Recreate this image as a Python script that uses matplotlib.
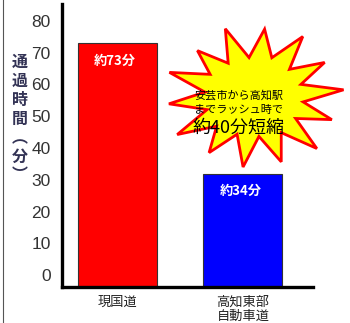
import numpy as np
import matplotlib.pyplot as plt
from matplotlib.patches import Polygon
from matplotlib.lines import Line2D

plt.rcParams['font.family'] = ['Noto Sans CJK JP', 'DejaVu Sans']

# data
roads = ['現国道', '高知東部\n自動車道']
minutes = [73, 34]
bar_labels = ['約73分', '約34分']
bar_colors = ['#ff0000', '#0000ff']
yticks = [0, 10, 20, 30, 40, 50, 60, 70, 80]

fig = plt.figure(figsize=(3.5, 3.23), dpi=100)
ax = fig.add_axes([0.177, 0.111, 0.717, 0.877])

x = np.arange(len(roads))
ax.bar(x, minutes, width=0.63, color=bar_colors, edgecolor='#333333', linewidth=0.8, zorder=2)
for xi, v, lab in zip(x, minutes, bar_labels):
    ax.text(xi - 0.02, v - 5.3, lab, ha='center', va='center', color='white',
            fontsize=9.5, fontweight='bold')

ax.set_xlim(-0.442, 1.558)
ax.set_ylim(0, 84.8)
# the original's tick labels are drawn on a slightly compressed, raised scale
ax.set_yticks(np.array(yticks) * 0.952 + 3.6)
ax.set_yticklabels([str(t) for t in yticks], family='Liberation Sans',
                   fontsize=12.5, color='#333333')
ax.set_xticks(x)
ax.set_xticklabels(roads, fontsize=9.5, color='#222222', linespacing=1.15)
ax.tick_params(axis='both', length=0, pad=6)
ax.tick_params(axis='y', pad=8)
for s in ['top', 'right']:
    ax.spines[s].set_visible(False)
for s in ['left', 'bottom']:
    ax.spines[s].set_linewidth(2.4)

# vertical y-axis title
fig.text(0.057, 0.632, '通\n過\n時\n間\n︵\n分\n︶', ha='center', va='center',
         fontsize=11.5, color='#333355', linespacing=1.22, fontweight='bold')

# starburst callout (shape in figure fraction)
cx, cy = 254 / 350, 1 - 97 / 323
radii = [1.0, 0.55, 0.92, 0.55, 1.0, 0.58, 0.95, 0.55, 1.0, 0.55, 0.9, 0.58,
         1.0, 0.55, 0.95, 0.55, 1.0, 0.58, 0.92, 0.55, 0.98, 0.55, 0.95, 0.58,
         1.0, 0.55, 0.92, 0.55]
ang = np.linspace(0, 2 * np.pi, len(radii), endpoint=False) + 0.1
rx, ry = 90 / 350, 72 / 323
pts = [(cx + r * rx * np.cos(a), cy + r * ry * np.sin(a)) for r, a in zip(radii, ang)]
fig.patches.append(Polygon(pts, closed=True, facecolor='#ffff00', edgecolor='#ff0000',
                           linewidth=2, transform=fig.transFigure, zorder=3))
fig.text(194 / 350, 1 - 95 / 323, '安芸市から高知駅', fontsize=8, va='center', zorder=4)
fig.text(194 / 350, 1 - 110 / 323, 'までラッシュ時で', fontsize=8, va='center', zorder=4)
fig.text(193 / 350, 1 - 128 / 323, '約40分短縮', fontsize=13, va='center', zorder=4)

# left border line
fig.lines.append(Line2D([3 / 350, 3 / 350], [0, 1], color='#555555', linewidth=0.8,
                        transform=fig.transFigure))

fig.savefig('out.png', dpi=100)
